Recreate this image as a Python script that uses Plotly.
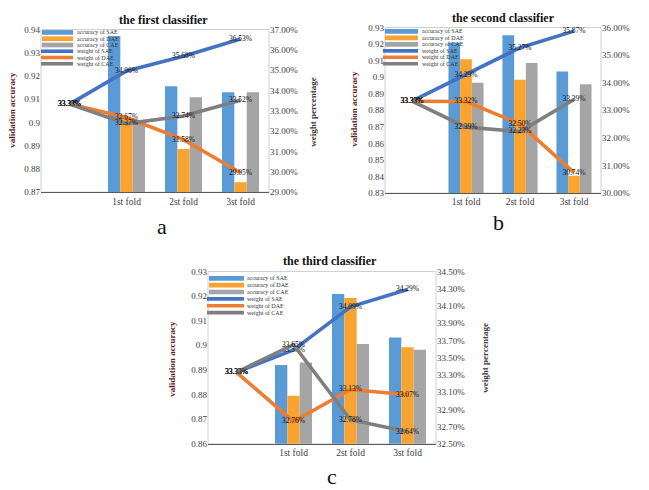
import plotly.graph_objects as go

W, H = 649, 490

categories = [" ", "1st fold", "2st fold", "3st fold"]
folds = ["1st fold", "2st fold", "3st fold"]
series_names = ["accuracy of SAE", "accuracy of DAE", "accuracy of CAE",
                "weight of SAE", "weight of DAE", "weight of CAE"]
titles = ["the first classifier", "the second classifier", "the third classifier"]
panel_labels = ["a", "b", "c"]

# validation accuracy (bars)
acc_a_sae = [0.9372, 0.9156, 0.9130]
acc_a_dae = [0.9020, 0.8886, 0.8742]
acc_a_cae = [0.9005, 0.9108, 0.9130]

acc_b_sae = [0.9210, 0.9253, 0.9034]
acc_b_dae = [0.9109, 0.8984, 0.8405]
acc_b_cae = [0.8967, 0.9085, 0.8957]

acc_c_sae = [0.8920, 0.9208, 0.9032]
acc_c_dae = [0.8795, 0.9192, 0.8992]
acc_c_cae = [0.8930, 0.9005, 0.8982]

# weight percentage (lines), in %
w_a_sae = [33.33, 34.96, 35.68, 36.53]
w_a_dae = [33.33, 32.67, 31.58, 29.95]
w_a_cae = [33.33, 32.37, 32.74, 33.52]

w_b_sae = [33.33, 34.29, 35.27, 35.87]
w_b_dae = [33.33, 33.32, 32.50, 30.74]
w_b_cae = [33.33, 32.39, 32.23, 33.39]

w_c_sae = [33.33, 33.59, 34.09, 34.29]
w_c_dae = [33.33, 32.76, 33.13, 33.07]
w_c_cae = [33.33, 33.65, 32.78, 32.64]

left_ranges = [[0.87, 0.94], [0.83, 0.93], [0.86, 0.93]]
right_ranges = [[29, 37], [30, 36], [32.5, 34.5]]
right_dticks = [1, 1, 0.2]

bar_colors = ["#5B9BD5", "#F9A431", "#A5A5A5"]
line_colors = ["#4472C4", "#ED7D31", "#7F7F7F"]

FONT = "Liberation Serif"

def X(px):
    return px / W

def Y(py):
    return 1 - py / H

# panel geometry in pixels: plot area (l, r, t, b)
panels = [
    dict(l=41, r=269, t=25, b=191, title=(163, 15), lab=(162, 226),
         ltitle=(12, 107), rtitle=(313, 109),
         leg=dict(x0=42, x1=73, lx0=41, tx=75, y0=28, dy=6.4)),
    dict(l=385, r=601, t=23, b=192, title=(503, 13), lab=(498, 222),
         ltitle=(354, 106), rtitle=(656, 107),
         leg=dict(x0=385, x1=418, lx0=383, tx=420, y0=27, dy=6.6)),
    dict(l=208, r=436, t=272, b=448, title=(330, 261), lab=(332, 481),
         ltitle=(172, 361), rtitle=(485, 360),
         leg=dict(x0=209, x1=244, lx0=207, tx=245, y0=279, dy=7.0)),
]

accs = [(acc_a_sae, acc_a_dae, acc_a_cae),
        (acc_b_sae, acc_b_dae, acc_b_cae),
        (acc_c_sae, acc_c_dae, acc_c_cae)]
weights = [(w_a_sae, w_a_dae, w_a_cae),
           (w_b_sae, w_b_dae, w_b_cae),
           (w_c_sae, w_c_dae, w_c_cae)]

fig = go.Figure()
layout = dict(width=W, height=H, margin=dict(l=0, r=0, t=0, b=0),
              paper_bgcolor="white", plot_bgcolor="white",
              barmode="group", bargap=0.35, bargroupgap=0,
              showlegend=False, font=dict(family=FONT, color="#404040"))
shapes = []
annotations = []

for i, p in enumerate(panels):
    xn = "x" if i == 0 else f"x{i+1}"
    yl = "y" if i == 0 else f"y{2*i+1}"
    yr = f"y{2*i+2}"
    xkey = "xaxis" if i == 0 else f"xaxis{i+1}"
    ylkey = "yaxis" if i == 0 else f"yaxis{2*i+1}"
    yrkey = f"yaxis{2*i+2}"

    for k in range(3):
        fig.add_trace(go.Bar(x=folds, y=accs[i][k], name=series_names[k],
                             marker=dict(color=bar_colors[k], line=dict(width=0)),
                             xaxis=xn, yaxis=yl))
    for k in range(3):
        fig.add_trace(go.Scatter(x=categories, y=weights[i][k], name=series_names[3 + k],
                                 mode="lines+text",
                                 line=dict(color=line_colors[k], width=3.6),
                                 text=[f"{v:.2f}%" for v in weights[i][k]],
                                 textposition="middle center",
                                 textfont=dict(family=FONT, size=7.5, color="#111111"),
                                 cliponaxis=False,
                                 xaxis=xn, yaxis=yr))

    layout[xkey] = dict(domain=[X(p["l"]), X(p["r"])], anchor=yl,
                        type="category", categoryorder="array", categoryarray=categories,
                        range=[-0.5, 3.5], showgrid=False, zeroline=False,
                        showline=True, linecolor="#595959", linewidth=1, ticks="",
                        tickfont=dict(family=FONT, size=9.5, color="#404040"))
    layout[ylkey] = dict(domain=[Y(p["b"]), Y(p["t"])], anchor=xn,
                         range=left_ranges[i], tick0=left_ranges[i][0], dtick=0.01,
                         showgrid=False, zeroline=False,
                         showline=False, ticks="",
                         tickfont=dict(family=FONT, size=9, color="#404040"))
    layout[yrkey] = dict(domain=[Y(p["b"]), Y(p["t"])], anchor=xn, overlaying=yl,
                         side="right", range=right_ranges[i],
                         tick0=right_ranges[i][0], dtick=right_dticks[i],
                         tickformat=".2f", ticksuffix="%", showgrid=False, zeroline=False,
                         showline=False, ticks="",
                         tickfont=dict(family=FONT, size=9, color="#404040"))

    # plot-area frame
    shapes.append(dict(type="rect", xref="paper", yref="paper",
                       x0=X(p["l"]), x1=X(p["r"]), y0=Y(p["b"]), y1=Y(p["t"]),
                       line=dict(color="#D0D0D0", width=1), layer="below"))

    # titles
    annotations.append(dict(text=f"<b>{titles[i]}</b>", x=X(p["title"][0]), y=Y(p["title"][1]),
                            xref="paper", yref="paper", showarrow=False,
                            xanchor="center", yanchor="middle",
                            font=dict(family=FONT, size=12, color="#111111")))
    annotations.append(dict(text=panel_labels[i], x=X(p["lab"][0]), y=Y(p["lab"][1]),
                            xref="paper", yref="paper", showarrow=False,
                            xanchor="center", yanchor="middle",
                            font=dict(family=FONT, size=22, color="#111111")))
    annotations.append(dict(text="<b>validation accuracy</b>", x=X(p["ltitle"][0]),
                            y=Y(p["ltitle"][1]), xref="paper", yref="paper",
                            showarrow=False, textangle=-90, xanchor="center", yanchor="middle",
                            font=dict(family=FONT, size=9, color="#5C2323")))
    annotations.append(dict(text="<b>weight percentage</b>", x=X(p["rtitle"][0]),
                            y=Y(p["rtitle"][1]), xref="paper", yref="paper",
                            showarrow=False, textangle=-90, xanchor="center", yanchor="middle",
                            font=dict(family=FONT, size=9, color="#3A3A3A")))

    # manual compact legend
    lg = p["leg"]
    for k in range(6):
        yy = lg["y0"] + k * lg["dy"]
        if k < 3:
            shapes.append(dict(type="rect", xref="paper", yref="paper",
                               x0=X(lg["x0"]), x1=X(lg["x1"]),
                               y0=Y(yy + 2.4), y1=Y(yy - 2.4),
                               fillcolor=bar_colors[k], line=dict(width=0)))
        else:
            shapes.append(dict(type="line", xref="paper", yref="paper",
                               x0=X(lg["lx0"]), x1=X(lg["x1"]), y0=Y(yy), y1=Y(yy),
                               line=dict(color=line_colors[k - 3], width=3.6)))
        annotations.append(dict(text=series_names[k], x=X(lg["tx"]), y=Y(yy),
                                xref="paper", yref="paper", showarrow=False,
                                xanchor="left", yanchor="middle",
                                font=dict(family=FONT, size=6, color="#333333")))

layout["shapes"] = shapes
layout["annotations"] = annotations
fig.update_layout(**layout)
fig.write_html("out.html")
